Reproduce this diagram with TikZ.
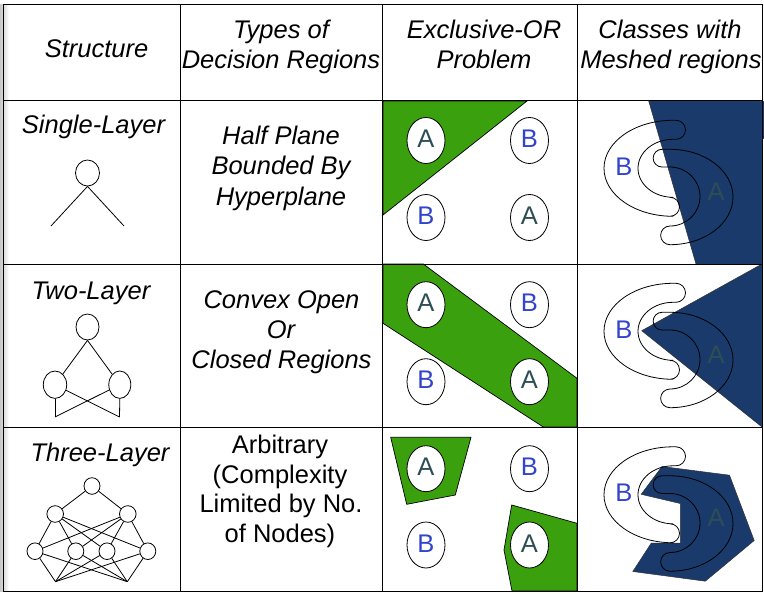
\documentclass[tikz,border=0pt]{standalone}
\usepackage{fontspec}
\setmainfont{Liberation Sans}
\usetikzlibrary{shapes.geometric}
\definecolor{xgreen}{HTML}{3BA00E}
\definecolor{mblue}{HTML}{1A3A6C}
\definecolor{lblue}{HTML}{3344CC}
\definecolor{lgray}{HTML}{2E4E55}
\newcommand\mysize{\fontsize{25.5}{30}\selectfont}
\begin{document}
\begin{tikzpicture}[x=1pt,y=1pt,yscale=-1,
  itx/.style={font=\mysize\itshape, anchor=base, inner sep=0pt},
  upx/.style={font=\mysize, anchor=base, inner sep=0pt},
  neur/.style={ellipse, draw, line width=0.8pt, inner sep=0pt},
  wire/.style={line width=0.8pt},
  gridline/.style={line width=1pt},
  greenreg/.style={fill=xgreen, draw=black, line width=0.7pt},
  bluereg/.style={fill=mblue, draw=black!80, line width=0.5pt},
  cshape/.style={draw=black, line width=0.8pt},
  xorc/.style={ellipse, draw, fill=white, line width=0.8pt, inner sep=0pt,
    minimum width=38pt, minimum height=46pt, text depth=3.4pt, font=\mysize},
  la/.style={text=lgray}, lb/.style={text=lblue},
  mlet/.style={font=\mysize, anchor=base, inner sep=0pt}]
\useasboundingbox (0,0) rectangle (764,594);
\fill[white] (0,0) rectangle (764,594);
% left shadow
\shade[left color=black!22, right color=white] (0,5) rectangle (9,591);

% green regions (XOR)
\filldraw[greenreg] (383,101) -- (527,101) -- (383,215) -- cycle;
\filldraw[greenreg] (383,264) -- (423.3,264) -- (577,378.3) -- (577,427) -- (543.3,427) -- (383,323.3) -- cycle;
\filldraw[greenreg] (390.7,437.3) -- (471,437.3) -- (455.3,495) -- (406.7,504.3) -- cycle;
\filldraw[greenreg] (511.7,505) -- (577,523.3) -- (577,591) -- (512,591) -- (504,550) -- cycle;

% blue regions (meshed)
\filldraw[bluereg] (648.7,101) -- (762,101) -- (762,264) -- (696,264) -- cycle;
\fill[mblue] (762,101) rectangle (764,139);
\filldraw[bluereg] (762,264) -- (641.7,330.7) -- (762,427) -- cycle;
\filldraw[bluereg] (662,466.5) -- (729.5,475.2) -- (754.2,540.5) -- (705.3,581.2) -- (632.8,571.5)
  -- (651.2,543.2) -- (680.3,543.2) -- (680.3,503.5) -- (641.2,494.3) -- cycle;

% meshed C shapes and letters
\foreach \dy/\k in {0/1,163/2,326.5/3}{
  \draw[cshape] (676,{120.3+\dy}) -- (673,{120.3+\dy})
    arc[start angle=270, end angle=90, x radius=69, y radius=48]
    -- (670,{216.3+\dy}) arc[start angle=90, end angle=-90, radius=9.5]
    -- (673,{197.3+\dy}) arc[start angle=90, end angle=270, x radius=35, y radius=29]
    -- (676,{139.3+\dy}) arc[start angle=90, end angle=-90, radius=9.5] -- cycle;
  \draw[cshape] (662,{149.3+\dy}) -- (670,{149.3+\dy})
    arc[start angle=-90, end angle=90, x radius=63, y radius=47.7]
    arc[start angle=90, end angle=270, radius=9.35]
    arc[start angle=90, end angle=-90, x radius=30, y radius=29.5]
    -- (662,{167+\dy}) arc[start angle=90, end angle=270, radius=8.85] -- cycle;
  \node[mlet, lb] (mB\k) at (623.8,{175.3+\dy}) {B};
  \node[mlet, la] (mA\k) at (716,{200.3+\dy}) {A};
}

% table grid
\draw[gridline] (3,5) rectangle (762,591);
\draw[gridline] (180,5) -- (180,591);
\draw[gridline] (382,5) -- (382,591);
\draw[gridline] (577,5) -- (577,591);
\draw[gridline] (3,101) -- (762,101);
\draw[gridline] (3,264) -- (762,264);
\draw[gridline] (3,427) -- (762,427);

% headers
\node[itx] (h1) at (96.5,58) {Structure};
\node[itx] (h2a) at (281,39) {Types of};
\node[itx] (h2b) at (281,69) {Decision Regions};
\node[itx] (h3a) at (484,39) {Exclusive-OR};
\node[itx] (h3b) at (484,69) {Problem};
\node[itx] (h4a) at (670,39) {Classes with};
\node[itx] (h4b) at (671,69) {Meshed regions};

% column 1 titles
\node[itx] (st1) at (93.5,133) {Single-Layer};
\node[itx] (st2) at (91,299) {Two-Layer};
\node[itx] (st3) at (100,461.5) {Three-Layer};

% column 2 texts
\node[itx] (d1a) at (281,144) {Half Plane};
\node[itx] (d1b) at (281,175) {Bounded By};
\node[itx] (d1c) at (281,205) {Hyperplane};
\node[itx] (d2a) at (281.5,308) {Convex Open};
\node[itx] (d2b) at (281,338) {Or};
\node[itx] (d2c) at (281.5,368) {Closed Regions};
\node[upx] (d3a) at (280,453) {Arbitrary};
\node[upx] (d3b) at (280,483) {(Complexity};
\node[upx] (d3c) at (281,512.5) {Limited by No.};
\node[upx] (d3d) at (280,542) {of Nodes)};

% single layer network
\node[neur, minimum width=24pt, minimum height=26pt] (s1) at (87.5,173) {};
\coordinate (si1) at (51,226);
\coordinate (si2) at (124,226);
\draw[wire] (s1.south) -- (si1);
\draw[wire] (s1.south) -- (si2);

% two layer network
\node[neur, minimum width=23pt, minimum height=26pt] (t1) at (87.5,327) {};
\node[neur, minimum width=23.4pt, minimum height=27.4pt] (t2) at (55,384.7) {};
\node[neur, minimum width=22pt, minimum height=27.4pt] (t3) at (119.8,384.7) {};
\coordinate (ti1) at (55,417);
\coordinate (ti2) at (119.5,417);
\draw[wire] (t1.south) -- (t2);
\draw[wire] (t1.south) -- (t3);
\draw[wire] (t2.south) -- (ti1);
\draw[wire] (t3.south) -- (ti2);
\draw[wire] (t2) -- (ti2);
\draw[wire] (t3) -- (ti1);

% three layer network
\node[neur, minimum width=16pt, minimum height=16.6pt] (g0) at (92,486) {};
\node[neur, minimum width=16.6pt, minimum height=16.6pt] (g1) at (55.2,514) {};
\node[neur, minimum width=16.6pt, minimum height=16.6pt] (g2) at (127.8,514) {};
\node[neur, minimum width=16pt, minimum height=16.6pt] (b1) at (35,551.2) {};
\node[neur, minimum width=16pt, minimum height=16.6pt] (b2) at (75.8,551.2) {};
\node[neur, minimum width=16pt, minimum height=16.6pt] (b3) at (107,551.2) {};
\node[neur, minimum width=16pt, minimum height=16.6pt] (b4) at (147.8,551.2) {};
\coordinate (gi1) at (55.5,581.7);
\coordinate (gi2) at (127.3,581.7);
\draw[wire] (g0) -- (g1);
\draw[wire] (g0) -- (g2);
\foreach \m in {g1,g2}{\foreach \b in {b1,b2,b3,b4}{\draw[wire] (\m) -- (\b);}}
\foreach \b in {b1,b2,b3,b4}{\draw[wire] (\b) -- (gi1); \draw[wire] (\b) -- (gi2);}

% XOR points
\node[xorc, la] (x1a) at (426,140.5) {A};
\node[xorc, lb] (x1b) at (529.5,140.5) {B};
\node[xorc, lb] (x1c) at (426,217.5) {B};
\node[xorc, la] (x1d) at (529.5,217.5) {A};
\node[xorc, la] (x2a) at (426,304.7) {A};
\node[xorc, lb] (x2b) at (529.5,304.7) {B};
\node[xorc, lb] (x2c) at (426,381.7) {B};
\node[xorc, la] (x2d) at (529.5,381.7) {A};
\node[xorc, la] (x3a) at (426,468.7) {A};
\node[xorc, lb] (x3b) at (529.5,468.7) {B};
\node[xorc, lb] (x3c) at (426,545) {B};
\node[xorc, la] (x3d) at (529.5,545) {A};
\end{tikzpicture}
\end{document}
